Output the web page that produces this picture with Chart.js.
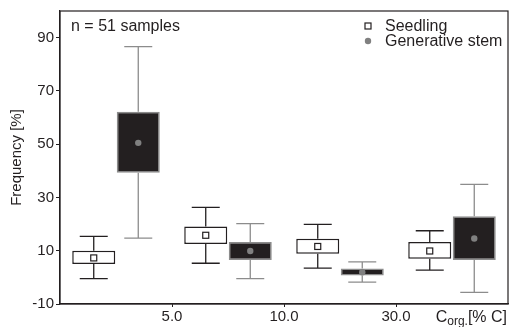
<!DOCTYPE html>
<html>
<head>
<meta charset="utf-8">
<script src="https://cdn.jsdelivr.net/npm/chart.js@4/dist/chart.umd.min.js"></script>
<style>
  html, body { margin: 0; padding: 0; background: #fff; }
  #wrap { width: 510px; height: 327px; }
</style>
</head>
<body>
<div id="wrap"><canvas id="graf"></canvas></div>
<script>
// dados
const classes = ['< 5.0', '5.0 - 10.0', '10.0 - 30.0', '> 30.0']
const xTicks = ['5.0', '10.0', '30.0']
const yTicks = [-10, 10, 30, 50, 70, 90]
const nomes = ['Seedling', 'Generative stem']

const seedMin  = [-0.5, 5.3, 3.5, 2.7]
const seedQ1   = [5.0, 12.5, 8.9, 7.0]
const seedQ3   = [10.0, 19.1, 14.5, 13.3]
const seedMax  = [15.4, 26.3, 19.9, 17.5]
const seedMean = [7.3, 15.8, 11.6, 9.9]

const genMin  = [14.7, -0.5, -1.8, -5.6]
const genQ1   = [39.3, 6.5, 0.7, 6.5]
const genQ3   = [62.2, 13.3, 3.3, 22.9]
const genMax  = [86.6, 20.2, 5.8, 34.9]
const genMean = [50.5, 9.9, 1.9, 14.6]

const texto = '#231f20'
const fonte = 'Helvetica, "Liberation Sans", Arial, sans-serif'

const series = [
    { min: seedMin, q1: seedQ1, q3: seedQ3, max: seedMax, mean: seedMean,
      linha: '#231f20', marca: 'rect' },
    { min: genMin, q1: genQ1, q3: genQ3, max: genMax, mean: genMean,
      linha: '#8c8c8c', marca: 'circle' }
]

function desenhaMarca(ctx, tipo, x, y) {
    ctx.save()
    if (tipo === 'rect') {
        ctx.fillStyle = '#fff'
        ctx.strokeStyle = '#231f20'
        ctx.lineWidth = 1.2
        ctx.fillRect(x - 3, y - 3, 6, 6)
        ctx.strokeRect(x - 3, y - 3, 6, 6)
    } else {
        ctx.fillStyle = '#808080'
        ctx.beginPath()
        ctx.arc(x, y, 3.2, 0, Math.PI * 2)
        ctx.fill()
    }
    ctx.restore()
}

const extras = {
    id: 'extras',
    beforeDatasetsDraw(chart) {
        const ctx = chart.ctx
        const y = chart.scales.y
        series.forEach((s, i) => {
            chart.getDatasetMeta(i).data.forEach((bar, j) => {
                const x = bar.x
                const cap = 14
                ctx.save()
                ctx.strokeStyle = s.linha
                ctx.lineWidth = 1.3
                ctx.beginPath()
                ctx.moveTo(x, y.getPixelForValue(s.q3[j]))
                ctx.lineTo(x, y.getPixelForValue(s.max[j]))
                ctx.moveTo(x - cap, y.getPixelForValue(s.max[j]))
                ctx.lineTo(x + cap, y.getPixelForValue(s.max[j]))
                ctx.moveTo(x, y.getPixelForValue(s.q1[j]))
                ctx.lineTo(x, y.getPixelForValue(s.min[j]))
                ctx.moveTo(x - cap, y.getPixelForValue(s.min[j]))
                ctx.lineTo(x + cap, y.getPixelForValue(s.min[j]))
                ctx.stroke()
                ctx.restore()
            })
        })
    },
    afterDatasetsDraw(chart) {
        const ctx = chart.ctx
        const y = chart.scales.y
        const area = chart.chartArea

        series.forEach((s, i) => {
            chart.getDatasetMeta(i).data.forEach((bar, j) => {
                desenhaMarca(ctx, s.marca, bar.x, y.getPixelForValue(s.mean[j]))
            })
        })

        ctx.save()
        ctx.strokeStyle = '#231f20'
        ctx.lineWidth = 1.2
        ctx.strokeRect(area.left, area.top, area.right - area.left, area.bottom - area.top)

        ctx.fillStyle = texto
        ctx.textBaseline = 'alphabetic'
        ctx.font = '16px ' + fonte
        ctx.textAlign = 'left'
        ctx.fillText('n = 51 samples', area.left + 11, area.top + 20)

        // legenda
        series.forEach((s, i) => {
            const ly = area.top + 15 + i * 15
            desenhaMarca(ctx, s.marca, area.right - 140, ly)
            ctx.fillStyle = texto
            ctx.font = '16px ' + fonte
            ctx.fillText(nomes[i], area.right - 123, ly + 5)
        })

        // titulo do eixo x: C org. [% C]
        const base = area.bottom + 18
        ctx.font = '16px ' + fonte
        const w1 = ctx.measureText('C').width
        const w3 = ctx.measureText('[% C]').width
        ctx.font = '12px ' + fonte
        const w2 = ctx.measureText('org.').width
        let px = area.right - 1 - w1 - w2 - w3
        ctx.font = '16px ' + fonte
        ctx.fillText('C', px, base)
        px += w1
        ctx.font = '12px ' + fonte
        ctx.fillText('org.', px, base + 3)
        px += w2
        ctx.font = '16px ' + fonte
        ctx.fillText('[% C]', px, base)
        ctx.restore()
    }
}

const ctx = document.getElementById('graf').getContext('2d')

new Chart(ctx, {
    type: 'bar',
    data: {
        labels: classes,
        datasets: [
            {
                label: nomes[0],
                data: seedQ1.map((v, i) => [v, seedQ3[i]]),
                backgroundColor: '#ffffff',
                borderColor: '#231f20',
                borderWidth: 1.5,
                borderSkipped: false,
                xAxisID: 'x'
            },
            {
                label: nomes[1],
                data: genQ1.map((v, i) => [v, genQ3[i]]),
                backgroundColor: '#231f20',
                borderColor: '#8c8c8c',
                borderWidth: 1.5,
                borderSkipped: false,
                xAxisID: 'x'
            }
        ]
    },
    options: {
        responsive: true,
        maintainAspectRatio: false,
        animation: false,
        categoryPercentage: 0.795,
        barPercentage: 0.966,
        layout: { padding: { top: 10, right: 2, left: 0, bottom: 0 } },
        plugins: {
            legend: { display: false },
            tooltip: { enabled: false }
        },
        scales: {
            x: {
                type: 'category',
                display: false,
                offset: true
            },
            x2: {
                type: 'linear',
                position: 'bottom',
                min: -0.5,
                max: 3.5,
                offset: false,
                afterBuildTicks: function (scale) {
                    scale.ticks = [0.5, 1.5, 2.5].map(v => ({ value: v }))
                },
                afterFit: function (scale) {
                    scale.height = 23
                },
                ticks: {
                    color: texto,
                    font: { size: 15, family: fonte },
                    padding: 1,
                    maxRotation: 0,
                    callback: function (value) {
                        return xTicks[Math.round(value - 0.5)]
                    }
                },
                grid: { drawOnChartArea: false, offset: false, tickLength: 3, color: '#231f20' },
                border: { color: '#231f20', width: 1.2 }
            },
            y: {
                min: -10,
                max: 100,
                afterBuildTicks: function (scale) {
                    scale.ticks = yTicks.map(v => ({ value: v }))
                },
                afterFit: function (scale) {
                    scale.width = 60
                },
                ticks: {
                    color: texto,
                    font: { size: 15, family: fonte },
                    padding: 2
                },
                grid: { drawOnChartArea: false, tickLength: 4, color: '#231f20' },
                border: { color: '#231f20', width: 1.2 },
                title: {
                    display: true,
                    text: 'Frequency [%]',
                    color: texto,
                    font: { size: 15, family: fonte },
                    padding: { top: 8, bottom: 0 }
                }
            }
        }
    },
    plugins: [extras]
})
</script>
</body>
</html>
